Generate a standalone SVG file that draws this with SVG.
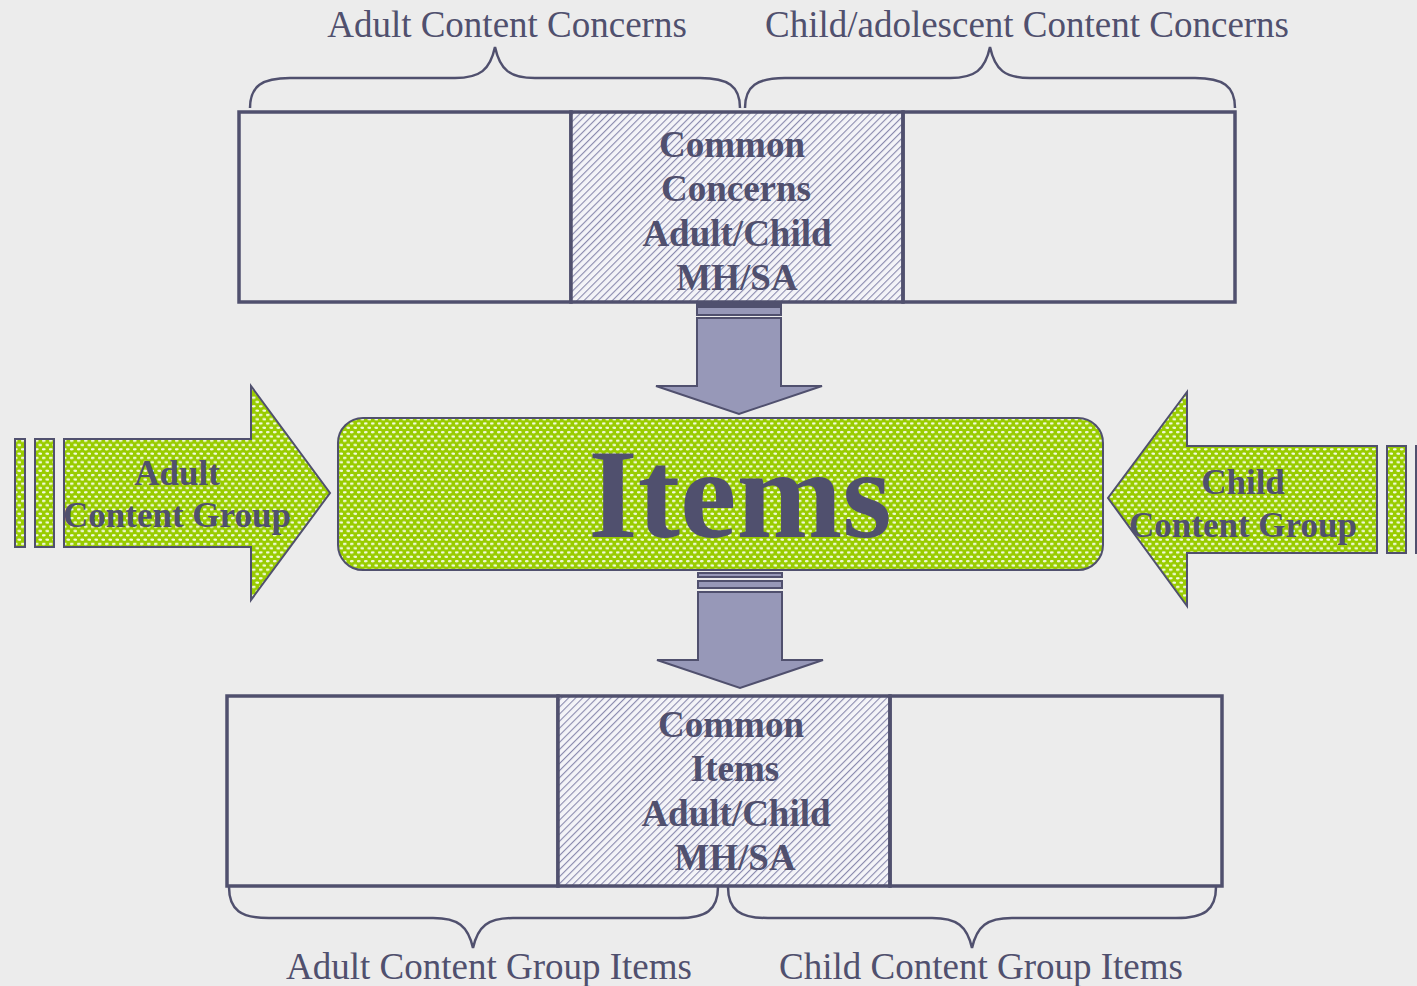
<svg xmlns="http://www.w3.org/2000/svg" width="1417" height="986" viewBox="0 0 1417 986">
<defs>
<pattern id="hatch" width="5" height="5" patternUnits="userSpaceOnUse" patternTransform="rotate(45)">
<rect width="5" height="5" fill="#f4f4f8"/>
<line x1="0" y1="0" x2="0" y2="5" stroke="#8a8aae" stroke-width="2.2"/>
</pattern>
<pattern id="dots" width="7" height="8.6" patternUnits="userSpaceOnUse">
<rect width="7" height="8.6" fill="#99cc00"/>
<ellipse cx="1.75" cy="2.15" rx="2" ry="1.1" fill="#f4fbe4"/>
<ellipse cx="5.25" cy="6.45" rx="2" ry="1.1" fill="#f4fbe4"/>
</pattern>
<style>
.box{fill:none;stroke:#50506e;stroke-width:3.5}
.hbox{fill:url(#hatch);stroke:#50506e;stroke-width:3.5}
.brace{fill:none;stroke:#50506e;stroke-width:2.5}
.lbl{font-family:"Liberation Serif","Times New Roman",serif;font-size:37px;fill:#50506e;text-anchor:middle}
.bold{font-family:"Liberation Serif","Times New Roman",serif;font-weight:bold;font-size:37px;fill:#50506e;text-anchor:middle}
.side{font-size:35px}
.green{fill:url(#dots);stroke:#50506e;stroke-width:2}
.darr{fill:#9798b8;stroke:#50506e;stroke-width:2}
</style>
</defs>
<rect width="1417" height="986" fill="#ececec"/>

<g id="top-labels">
<text class="lbl" x="507" y="37">Adult Content Concerns</text>
<text class="lbl" x="1027" y="37">Child/adolescent Content Concerns</text>
<path class="brace" d="M250,108 C250,86 262,78 290,78 L455,78 C480,78 490,70 495,47 C500,70 510,78 535,78 L700,78 C728,78 740,86 740,108"/>
<path class="brace" d="M745,108 C745,86 757,78 785,78 L950,78 C975,78 985,70 990,47 C995,70 1005,78 1030,78 L1195,78 C1223,78 1235,86 1235,108"/>
</g>

<g id="top-boxes">
<rect class="box" x="239" y="112" width="332" height="190"/>
<rect class="hbox" x="571" y="112" width="332" height="190"/>
<rect class="box" x="903" y="112" width="332" height="190"/>
<text class="bold" x="732" y="157">Common</text>
<text class="bold" x="736" y="201">Concerns</text>
<text class="bold" x="737" y="246">Adult/Child</text>
<text class="bold" x="737" y="290">MH/SA</text>
</g>

<g id="connectors">
<g id="arrow-down-top">
<rect class="darr" x="697" y="304" width="84" height="2"/>
<rect class="darr" x="697" y="307" width="84" height="8"/>
<path class="darr" d="M697,318 L781,318 L781,386 L822,386 L739,414 L656,386 L697,386 Z"/>
</g>
<g id="arrow-down-bottom">
<rect class="darr" x="698" y="573" width="84" height="4"/>
<rect class="darr" x="698" y="581" width="84" height="7"/>
<path class="darr" d="M698,592 L782,592 L782,660 L823,660 L740,688 L657,660 L698,660 Z"/>
</g>
</g>

<g id="adult-arrow">
<rect class="green" x="15" y="439" width="10" height="108"/>
<rect class="green" x="35" y="439" width="19" height="108"/>
<path class="green" d="M64,439 L251,439 L251,386 L330,493 L251,600 L251,547 L64,547 Z"/>
<text class="bold side" x="177" y="485">Adult</text>
<text class="bold side" x="177" y="527">Content Group</text>
</g>

<g id="child-arrow">
<path class="green" d="M1377,446 L1187,446 L1187,392 L1108,498 L1187,606 L1187,553 L1377,553 Z"/>
<rect class="green" x="1387" y="446" width="19" height="107"/>
<rect class="green" x="1416" y="446" width="6" height="107"/>
<text class="bold side" x="1243" y="494">Child</text>
<text class="bold side" x="1243" y="537">Content Group</text>
</g>

<g id="items">
<rect class="green" x="338" y="418" width="765" height="152" rx="25" ry="25"/>
<text x="740" y="537" style="font-family:'Liberation Serif','Times New Roman',serif;font-weight:bold;font-size:127px;fill:#50506e;text-anchor:middle">Items</text>
</g>

<g id="bottom-boxes">
<rect class="box" x="227" y="696" width="331" height="190"/>
<rect class="hbox" x="558" y="696" width="332" height="190"/>
<rect class="box" x="890" y="696" width="332" height="190"/>
<text class="bold" x="731" y="737">Common</text>
<text class="bold" x="735" y="781">Items</text>
<text class="bold" x="736" y="826">Adult/Child</text>
<text class="bold" x="735" y="870">MH/SA</text>
</g>

<g id="bottom-labels">
<path class="brace" d="M229,887 C229,910 241,918 269,918 L433,918 C458,918 468,926 473,948 C478,926 488,918 513,918 L678,918 C706,918 718,910 718,887"/>
<path class="brace" d="M728,887 C728,910 740,918 768,918 L932,918 C957,918 967,926 972,948 C977,926 987,918 1012,918 L1176,918 C1204,918 1216,910 1216,887"/>
<text class="lbl" x="489" y="979">Adult Content Group Items</text>
<text class="lbl" x="981" y="979">Child Content Group Items</text>
</g>
</svg>
